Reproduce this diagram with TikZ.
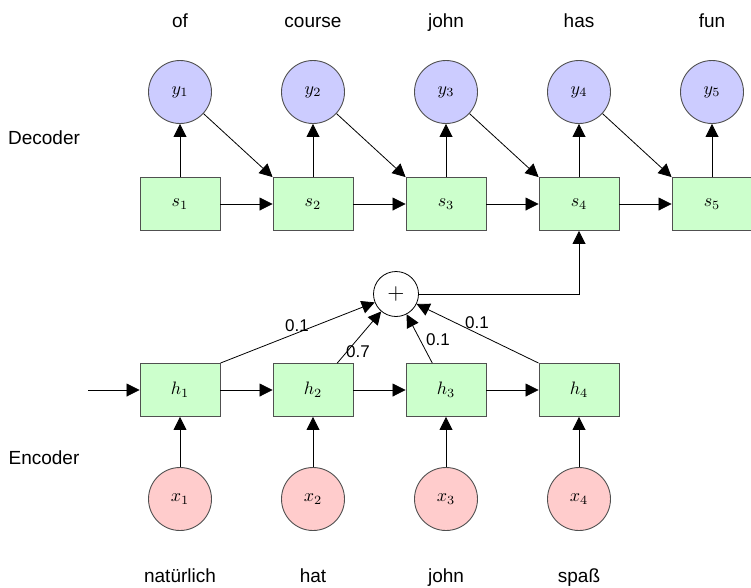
\documentclass[tikz,border=0pt]{standalone}
\usepackage{graphicx}
\usepackage{fontspec}
\setmainfont{Liberation Sans}
\usetikzlibrary{arrows.meta}
\definecolor{boxgreen}{HTML}{CCFFCC}
\definecolor{outblue}{HTML}{CCCCFF}
\definecolor{inred}{HTML}{FFCCCC}
\definecolor{edge}{HTML}{505050}
% enlarged math labels
\newcommand{\mlabel}[1]{\scalebox{1.8}{$#1$}}
\tikzset{
  state/.style={draw=edge, fill=boxgreen, line width=0.9pt, minimum width=80pt, minimum height=53pt, inner sep=0pt},
  outnode/.style={circle, draw=edge, fill=outblue, line width=0.9pt, minimum size=63pt, inner sep=0pt},
  innode/.style={circle, draw=edge, fill=inred, line width=0.9pt, minimum size=63pt, inner sep=0pt},
  sumnode/.style={circle, draw=black, fill=white, line width=0.8pt, minimum size=45pt, inner sep=0pt},
  conn/.style={-{Triangle[length=13pt,width=13pt]}, line width=0.8pt},
  word/.style={anchor=base, inner sep=0pt, font=\fontsize{19}{22}\selectfont},
  weight/.style={inner sep=0pt, font=\fontsize{17}{20}\selectfont},
}
\begin{document}
\begin{tikzpicture}[x=1pt,y=-1pt]
\useasboundingbox (0,0) rectangle (751,587);

% decoder outputs
\node[outnode] (y1) at (180,92) {\mlabel{y_1}};
\node[outnode] (y2) at (313,92) {\mlabel{y_2}};
\node[outnode] (y3) at (446,92) {\mlabel{y_3}};
\node[outnode] (y4) at (579,92) {\mlabel{y_4}};
\node[outnode] (y5) at (712,92) {\mlabel{y_5}};

% decoder states
\node[state] (s1) at (180,204) {\mlabel{s_1}};
\node[state] (s2) at (313,204) {\mlabel{s_2}};
\node[state] (s3) at (446,204) {\mlabel{s_3}};
\node[state] (s4) at (579,204) {\mlabel{s_4}};
\node[state] (s5) at (712,204) {\mlabel{s_5}};

% context sum
\node[sumnode] (sum) at (396,294) {\scalebox{2.2}{$+$}};

% encoder states
\node[state] (h1) at (180,390) {\mlabel{h_1}};
\node[state] (h2) at (313,390) {\mlabel{h_2}};
\node[state] (h3) at (446,390) {\mlabel{h_3}};
\node[state] (h4) at (579,390) {\mlabel{h_4}};

% encoder inputs
\node[innode] (x1) at (180,499) {\mlabel{x_1}};
\node[innode] (x2) at (313,499) {\mlabel{x_2}};
\node[innode] (x3) at (446,499) {\mlabel{x_3}};
\node[innode] (x4) at (579,499) {\mlabel{x_4}};

\coordinate (start) at (88,390);

% target words
\node[word] (t1) at (180,27) {of};
\node[word] (t2) at (313,27) {course};
\node[word] (t3) at (446,27) {john};
\node[word] (t4) at (579,27) {has};
\node[word] (t5) at (712,27) {fun};

% source words
\node[word] (w1) at (180,582) {natürlich};
\node[word] (w2) at (313,582) {hat};
\node[word] (w3) at (446,582) {john};
\node[word] (w4) at (579,582) {spaß};

% side labels
\node[word] (dec) at (44,144) {Decoder};
\node[word] (enc) at (44,464) {Encoder};

% attention weights
\node[weight] (a1) at (297,326) {0.1};
\node[weight] (a2) at (358,352) {0.7};
\node[weight] (a3) at (438,340) {0.1};
\node[weight] (a4) at (477,323) {0.1};

% decoder connections
\foreach \i in {1,...,5} \draw[conn] (s\i) -- (y\i);
\foreach \i/\j in {1/2,2/3,3/4,4/5} {
  \draw[conn] (s\i) -- (s\j);
  \draw[conn] (y\i) -- (s\j.north west);
}

% encoder connections
\foreach \i in {1,...,4} \draw[conn] (x\i) -- (h\i);
\draw[conn] (start) -- (h1);
\foreach \i/\j in {1/2,2/3,3/4} \draw[conn] (h\i) -- (h\j);

% attention into the sum
\draw[conn] (h1.north east) -- (sum);
\draw[conn] (h2.48) -- (sum);
\draw[conn] (h3.117) -- (sum);
\draw[conn] (h4.north west) -- (sum);
\draw[conn] (sum.east) -| (s4.south);
\end{tikzpicture}
\end{document}
